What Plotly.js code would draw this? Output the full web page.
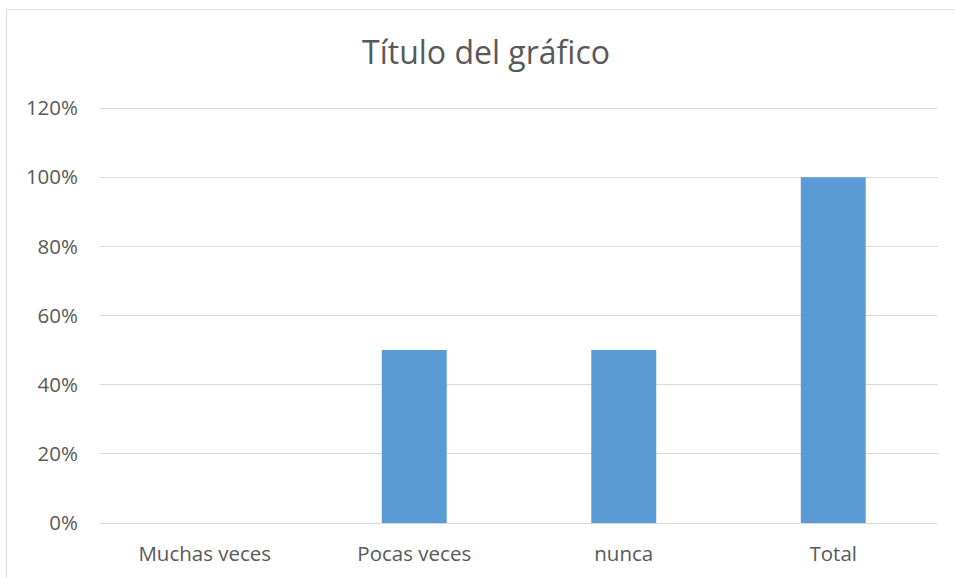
<!DOCTYPE html>
<html>
<head>
<meta charset="utf-8">
<script src="https://cdn.plot.ly/plotly-3.0.1.min.js"></script>
<style>
  html, body { margin: 0; padding: 0; background: #ffffff; }
  #chart { position: absolute; left: 0; top: 0; width: 955px; height: 578px; }
  #frame { position: absolute; left: 6px; top: 9px; width: 960px; height: 580px;
           border-left: 1px solid #d9d9d9; border-top: 1px solid #d9d9d9; pointer-events: none; }
</style>
</head>
<body>
<div id="chart"></div>
<div id="frame"></div>
<script>
const categories = ["Muchas veces", "Pocas veces", "nunca", "Total"];
const values = [0, 0.5, 0.5, 1.0];
const tickValues = [0, 0.2, 0.4, 0.6, 0.8, 1.0, 1.2];
const tickLabels = ["0%", "20%", "40%", "60%", "80%", "100%", "120%"];
const chartTitle = "Título del gráfico";

const fontFamily = "Open Sans, Noto Sans, sans-serif";
const textColor = "#595959";

Plotly.newPlot("chart", [{
  type: "bar",
  x: categories,
  y: values,
  marker: { color: "#5b9bd5" },
  hoverinfo: "x+y"
}], {
  width: 955,
  height: 578,
  margin: { l: 100, r: 17, t: 107, b: 55 },
  paper_bgcolor: "#ffffff",
  plot_bgcolor: "#ffffff",
  bargap: 0.69,
  showlegend: false,
  title: {
    text: chartTitle,
    font: { family: fontFamily, size: 32, color: textColor },
    xref: "container", x: 486 / 955, xanchor: "center",
    yref: "container", y: 1 - 53 / 578, yanchor: "middle"
  },
  xaxis: {
    type: "category",
    showgrid: false,
    showline: true,
    linecolor: "#d9d9d9",
    linewidth: 1,
    zeroline: false,
    ticks: "",
    ticklabelstandoff: 12,
    tickfont: { family: fontFamily, size: 20.5, color: textColor }
  },
  yaxis: {
    range: [0, 1.203],
    tickvals: tickValues,
    ticktext: tickLabels,
    showgrid: true,
    gridcolor: "#d9d9d9",
    gridwidth: 1,
    zeroline: false,
    showline: false,
    ticks: "",
    ticklabelstandoff: 21,
    tickfont: { family: fontFamily, size: 20.5, color: textColor }
  }
}, { displayModeBar: false, staticPlot: false });
</script>
</body>
</html>
